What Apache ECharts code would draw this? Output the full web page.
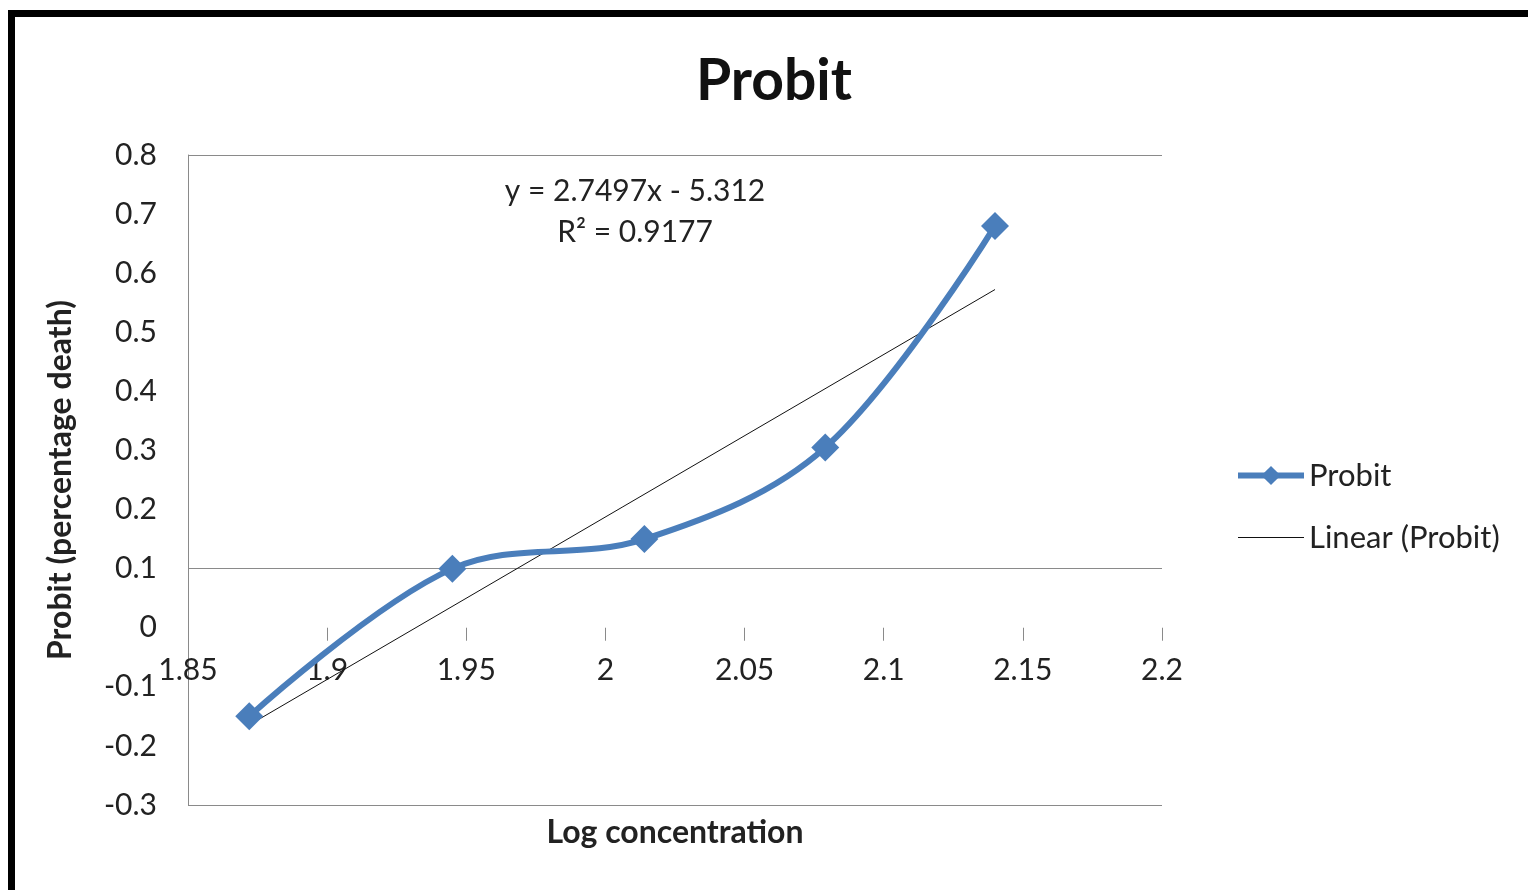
<!DOCTYPE html>
<html>
<head>
<meta charset="utf-8">
<title>Probit</title>
<script src="https://cdn.jsdelivr.net/npm/echarts@6/dist/echarts.min.js"></script>
<style>
  html, body { margin: 0; padding: 0; background: #ffffff; }
  #chart { width: 1528px; height: 890px; }
</style>
</head>
<body>
<div id="chart"></div>
<script>
// Log concentration (x) and probit values (y) of the observations
const logConcentration = [1.872, 1.945, 2.014, 2.079, 2.14];
const probitValues = [-0.15, 0.10, 0.15, 0.305, 0.68];

// Linear trend fitted to the observations
const trendSlope = 2.7497;
const trendIntercept = -5.312;
const trendR2 = 0.9177;

// Axis ranges
const xAxisMin = 1.85, xAxisMax = 2.2, xAxisStep = 0.05;
const yAxisMin = -0.3, yAxisMax = 0.8, yAxisStep = 0.1;
// Value levels that carry a horizontal gridline
const gridLevels = [-0.3, 0.1, 0.8];

const seriesName = 'Probit';
const trendName = 'Linear (Probit)';

const FONT = 'Lato, "Open Sans", "Liberation Sans", sans-serif';
const BLUE = '#4a7ebb';

// plot box
const GRID = { left: 188, right: 366, top: 155, bottom: 85 };
const plotHeight = 890 - GRID.top - GRID.bottom;
// the x axis crosses the y axis at value 0
const xAxisShift = -plotHeight * (0 - yAxisMin) / (yAxisMax - yAxisMin);

const observed = logConcentration.map((x, i) => [x, probitValues[i]]);
const xFirst = logConcentration[0];
const xLast = logConcentration[logConcentration.length - 1];
const trendPoints = [
  [xFirst, trendSlope * xFirst + trendIntercept],
  [xLast, trendSlope * xLast + trendIntercept]
];

// one colour per y tick, visible only on the gridline levels
const yTickCount = Math.round((yAxisMax - yAxisMin) / yAxisStep) + 1;
const splitColors = [];
for (let i = 0; i < yTickCount; i++) {
  const v = +(yAxisMin + i * yAxisStep).toFixed(4);
  splitColors.push(gridLevels.some(g => Math.abs(g - v) < 1e-6) ? '#8a8a8a' : 'rgba(0,0,0,0)');
}

const fmtSign = v => (v < 0 ? '- ' + Math.abs(v) : '+ ' + v);

const chart = echarts.init(document.getElementById('chart'), null, { renderer: 'canvas' });

chart.setOption({
  backgroundColor: '#ffffff',
  animation: false,
  title: {
    text: 'Probit',
    left: 769,
    top: 48,
    textAlign: 'center',
    textStyle: { fontFamily: FONT, fontWeight: 'bold', fontSize: 57, color: '#111' }
  },
  legend: {
    orient: 'vertical',
    left: 1230,
    top: 455,
    itemWidth: 66,
    itemHeight: 24,
    itemGap: 31,
    data: [
      { name: seriesName, lineStyle: { width: 6, color: BLUE } },
      {
        name: trendName,
        lineStyle: { width: 1, color: '#111' },
        itemStyle: { color: 'rgba(0,0,0,0)', borderColor: 'rgba(0,0,0,0)', borderWidth: 0 }
      }
    ],
    textStyle: { fontFamily: FONT, fontSize: 31, lineHeight: 31, color: '#222' }
  },
  grid: {
    left: GRID.left, right: GRID.right, top: GRID.top, bottom: GRID.bottom,
    containLabel: false,
    outerBoundsMode: 'none'
  },
  xAxis: {
    type: 'value',
    min: xAxisMin,
    max: xAxisMax,
    interval: xAxisStep,
    offset: xAxisShift,
    name: 'Log concentration',
    nameLocation: 'middle',
    nameGap: 189,
    nameTextStyle: { fontFamily: FONT, fontWeight: 'bold', fontSize: 32, color: '#222' },
    axisLine: { show: true, onZero: false, lineStyle: { color: 'rgba(0,0,0,0)' } },
    axisTick: { show: true, length: 13, lineStyle: { color: '#8a8a8a', width: 1 } },
    axisLabel: { fontFamily: FONT, fontSize: 30, color: '#222', margin: 28 },
    splitLine: { show: false }
  },
  yAxis: {
    type: 'value',
    min: yAxisMin,
    max: yAxisMax,
    interval: yAxisStep,
    name: 'Probit (percentage death)',
    nameLocation: 'middle',
    nameRotate: 90,
    nameGap: 111,
    nameTextStyle: { fontFamily: FONT, fontWeight: 'bold', fontSize: 32, color: '#222' },
    axisLine: { show: true, lineStyle: { color: '#8a8a8a', width: 1 } },
    axisTick: { show: false },
    axisLabel: { fontFamily: FONT, fontSize: 30, color: '#222', margin: 31 },
    splitLine: { show: true, lineStyle: { color: splitColors, width: 1 } }
  },
  series: [
    {
      name: seriesName,
      type: 'line',
      data: observed,
      smooth: 0.35,
      symbol: 'diamond',
      symbolSize: 28,
      showAllSymbol: true,
      lineStyle: { color: BLUE, width: 6 },
      itemStyle: { color: BLUE },
      z: 3
    },
    {
      name: trendName,
      type: 'line',
      data: trendPoints,
      symbol: 'none',
      lineStyle: { color: '#111', width: 1 },
      itemStyle: { color: '#111' },
      z: 2
    }
  ],
  graphic: [
    {
      type: 'text',
      x: 635,
      y: 171,
      style: {
        text: 'y = ' + trendSlope + 'x ' + fmtSign(trendIntercept) + '\nR\u00B2 = ' + trendR2,
        fontFamily: FONT,
        fontSize: 30,
        lineHeight: 41,
        fill: '#222',
        align: 'center',
        verticalAlign: 'top'
      }
    },
    { type: 'rect', shape: { x: 8, y: 10, width: 1520, height: 7 }, style: { fill: '#000' } },
    { type: 'rect', shape: { x: 8, y: 10, width: 7, height: 880 }, style: { fill: '#000' } }
  ]
});
</script>
</body>
</html>
